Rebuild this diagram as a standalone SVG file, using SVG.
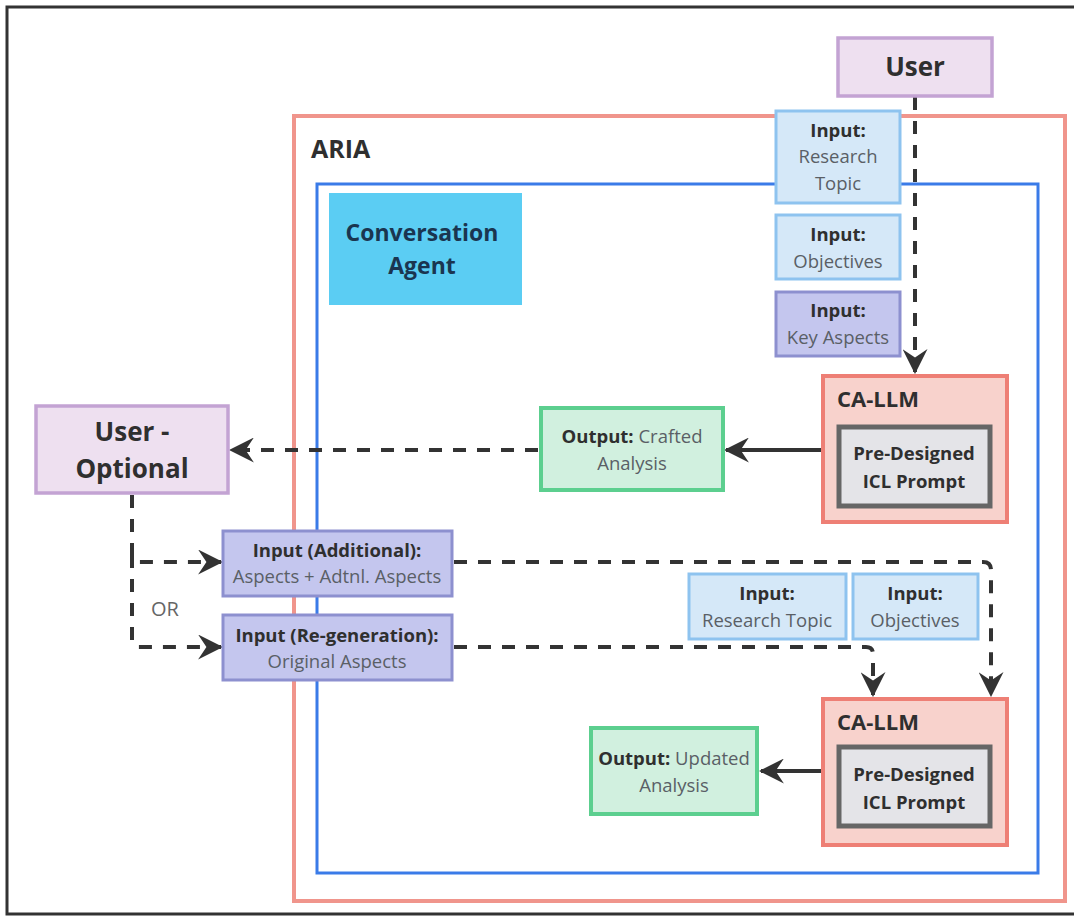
<svg xmlns="http://www.w3.org/2000/svg" width="1074" height="918" viewBox="0 0 1074 918">
<style>
text{font-family:"Open Sans","Liberation Sans",sans-serif;text-anchor:middle}
.b{font-weight:bold;fill:#2f2f2f}
.r{fill:#5a5f66}
.s{font-size:18.5px}
.inBlue{fill:#d5e8f8;stroke:#8ec3ef;stroke-width:3}
.inPurp{fill:#c4c6ee;stroke:#8d90cf;stroke-width:3}
.user{fill:#eee0f0;stroke:#c3a3d3;stroke-width:3.5}
.llm{fill:#f8d2cc;stroke:#ee7f75;stroke-width:4}
.icl{fill:#e4e4e8;stroke:#666;stroke-width:5}
.out{fill:#d1f0df;stroke:#5ccf8f;stroke-width:4}
.dash{fill:none;stroke:#333;stroke-width:4;stroke-dasharray:13 11}
.solid{fill:none;stroke:#333;stroke-width:4}
</style>
<defs>
<marker id="ah" viewBox="0 0 12 12" refX="11" refY="6" markerWidth="25" markerHeight="25" markerUnits="userSpaceOnUse" orient="auto">
<path d="M0,0 L12,6 L0,12 L4,6 z" fill="#333"/>
</marker>
</defs>
<rect width="1074" height="918" fill="#fff"/>
<rect x="7" y="7" width="1085" height="907" fill="none" stroke="#333" stroke-width="3"/>

<g id="aria">
<rect x="294" y="116" width="771" height="785" fill="none" stroke="#f0958c" stroke-width="4"/>
<text x="311" y="158" class="b" font-size="25" text-anchor="start" style="text-anchor:start">ARIA</text>
</g>
<g id="conversation-agent-frame">
<rect x="317" y="184" width="721" height="689" fill="none" stroke="#3a7be8" stroke-width="3"/>
</g>
<g id="conversation-agent">
<rect x="329" y="193" width="193" height="112" fill="#5bcdf3"/>
<text x="422" y="241" font-size="23" font-weight="bold" fill="#1a3550">Conversation</text>
<text x="422" y="274" font-size="23" font-weight="bold" fill="#1a3550">Agent</text>
</g>

<g id="connectors">
<path class="dash" d="M915,97 V372" marker-end="url(#ah)"/>
<path class="solid" d="M821,450 H726" marker-end="url(#ah)"/>
<path class="dash" d="M538,450 H231" marker-end="url(#ah)"/>
<path class="dash" d="M132,495 V555 Q132,562 139,562 H221" marker-end="url(#ah)"/>
<path class="dash" d="M132,555 V640 Q132,647 139,647 H221" marker-end="url(#ah)"/>
<path class="dash" d="M454,562 H983 Q991,562 991,570 V695" marker-end="url(#ah)"/>
<path class="dash" d="M454,647 H866 Q873,647 873,654 V695" marker-end="url(#ah)"/>
<path class="solid" d="M821,771 H761" marker-end="url(#ah)"/>
<text x="165" y="616" font-size="20" fill="#666">OR</text>
</g>

<g id="user">
<rect x="838" y="38" width="154" height="58" class="user"/>
<text x="915" y="76" class="b" font-size="26">User</text>
</g>
<g id="input-research-topic">
<rect x="776" y="111" width="124" height="92" class="inBlue"/>
<text x="838" y="137" class="b s">Input:</text>
<text x="838" y="163" class="r s">Research</text>
<text x="838" y="190" class="r s">Topic</text>
</g>
<g id="input-objectives">
<rect x="776" y="215" width="124" height="64" class="inBlue"/>
<text x="838" y="241" class="b s">Input:</text>
<text x="838" y="268" class="r s">Objectives</text>
</g>
<g id="input-key-aspects">
<rect x="776" y="292" width="124" height="64" class="inPurp"/>
<text x="838" y="317" class="b s">Input:</text>
<text x="838" y="344" class="r s">Key Aspects</text>
</g>

<g id="ca-llm-1">
<rect x="823" y="376" width="184" height="146" class="llm"/>
<text x="837" y="407" class="b" font-size="22" style="text-anchor:start">CA-LLM</text>
<rect x="839" y="427" width="151" height="79" class="icl"/>
<text x="914" y="460" class="b s">Pre-Designed</text>
<text x="914" y="488" class="b s">ICL Prompt</text>
</g>
<g id="output-crafted">
<rect x="541" y="408" width="182" height="82" class="out"/>
<text x="632" y="443" class="s"><tspan class="b">Output:</tspan><tspan class="r"> Crafted</tspan></text>
<text x="632" y="470" class="r s">Analysis</text>
</g>
<g id="user-optional">
<rect x="36" y="406" width="192" height="87" class="user"/>
<text x="132" y="441" class="b" font-size="26">User -</text>
<text x="132" y="478" class="b" font-size="26">Optional</text>
</g>
<g id="input-additional">
<rect x="223" y="531" width="229" height="65" class="inPurp"/>
<text x="337" y="557" class="b s">Input (Additional):</text>
<text x="337" y="583" class="r s">Aspects + Adtnl. Aspects</text>
</g>
<g id="input-regeneration">
<rect x="223" y="615" width="229" height="65" class="inPurp"/>
<text x="337" y="642" class="b s">Input (Re-generation):</text>
<text x="337" y="668" class="r s">Original Aspects</text>
</g>
<g id="input-research-topic-2">
<rect x="689" y="574" width="157" height="65" class="inBlue"/>
<text x="767" y="600" class="b s">Input:</text>
<text x="767" y="627" class="r s">Research Topic</text>
</g>
<g id="input-objectives-2">
<rect x="853" y="574" width="125" height="65" class="inBlue"/>
<text x="915" y="600" class="b s">Input:</text>
<text x="915" y="627" class="r s">Objectives</text>
</g>
<g id="ca-llm-2">
<rect x="823" y="699" width="184" height="146" class="llm"/>
<text x="837" y="730" class="b" font-size="22" style="text-anchor:start">CA-LLM</text>
<rect x="839" y="747" width="151" height="79" class="icl"/>
<text x="914" y="781" class="b s">Pre-Designed</text>
<text x="914" y="809" class="b s">ICL Prompt</text>
</g>
<g id="output-updated">
<rect x="591" y="728" width="166" height="86" class="out"/>
<text x="674" y="765" class="s"><tspan class="b">Output:</tspan><tspan class="r"> Updated</tspan></text>
<text x="674" y="792" class="r s">Analysis</text>
</g>
</svg>
